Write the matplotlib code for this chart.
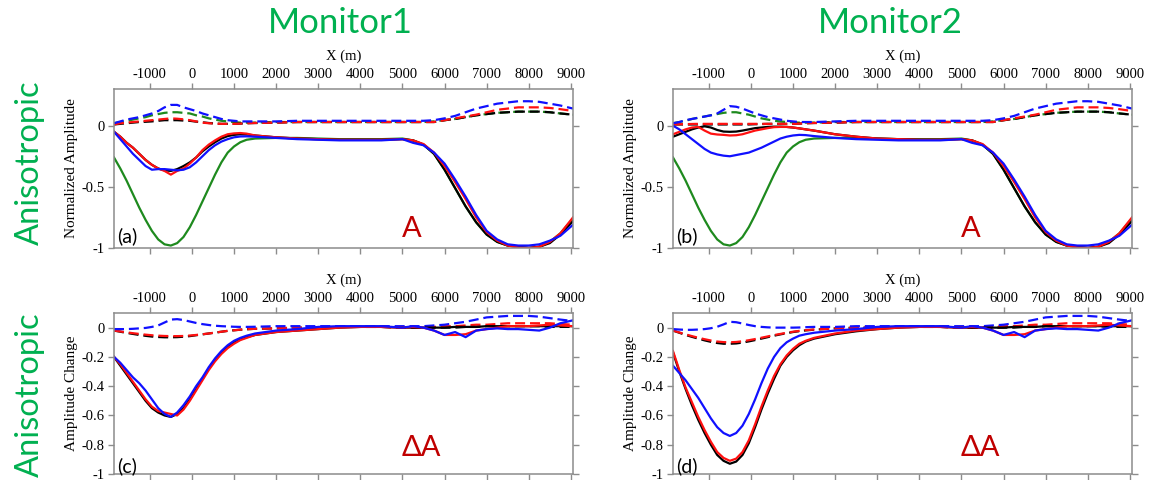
import matplotlib
matplotlib.use("Agg")
import matplotlib.pyplot as plt

# ---------------- data ----------------
x_m = [-1850, -1700, -1550, -1400, -1250, -1100, -950, -800, -650, -500, -350, -200, -50,
       100, 250, 400, 550, 700, 850, 1000, 1150, 1300, 1500,
       2000, 2500, 3000, 3500, 4000, 4500, 5000,
       5250, 5500, 5750, 6000, 6250, 6500, 6750, 7000, 7250, 7500, 7750, 8000, 8250, 8500, 8750, 9050]

x_ticks = [-1000, 0, 1000, 2000, 3000, 4000, 5000, 6000, 7000, 8000, 9000]
amp_yticks = [0, -0.5, -1]
amp_ytick_labels = ["0", "-0.5", "-1"]
chg_yticks = [0, -0.2, -0.4, -0.6, -0.8, -1]
chg_ytick_labels = ["0", "-0.2", "-0.4", "-0.6", "-0.8", "-1"]

col_titles = ["Monitor1", "Monitor2"]
row_titles = ["Anisotropic", "Anisotropic"]
panel_tags = ["(a)", "(b)", "(c)", "(d)"]
panel_marks = ["A", "A", "\u0394A", "\u0394A"]

# Panel (a): Monitor1 normalized amplitude
green_a = [-0.26, -0.35, -0.45, -0.56, -0.67, -0.77, -0.86, -0.93, -0.97, -0.98, -0.96, -0.91, -0.83,
           -0.73, -0.62, -0.51, -0.40, -0.30, -0.22, -0.17, -0.135, -0.115, -0.105,
           -0.10, -0.10, -0.105, -0.11, -0.11, -0.11, -0.105,
           -0.12, -0.155, -0.23, -0.36, -0.51, -0.66, -0.79, -0.89, -0.95, -0.98, -0.99, -1.0, -0.99, -0.95, -0.88, -0.76]
black_a = [-0.05, -0.09, -0.14, -0.18, -0.23, -0.28, -0.32, -0.35, -0.365, -0.37, -0.355, -0.33, -0.30,
           -0.26, -0.21, -0.17, -0.135, -0.105, -0.085, -0.075, -0.07, -0.072, -0.08,
           -0.095, -0.105, -0.11, -0.115, -0.115, -0.115, -0.11,
           -0.12, -0.155, -0.23, -0.36, -0.51, -0.66, -0.79, -0.89, -0.95, -0.98, -0.99, -1.0, -0.99, -0.96, -0.89, -0.78]
red_a = [-0.05, -0.09, -0.14, -0.18, -0.23, -0.28, -0.32, -0.35, -0.37, -0.40, -0.37, -0.35, -0.31,
         -0.26, -0.20, -0.155, -0.12, -0.09, -0.07, -0.063, -0.06, -0.065, -0.08,
         -0.095, -0.105, -0.11, -0.115, -0.115, -0.115, -0.11,
         -0.12, -0.15, -0.22, -0.33, -0.46, -0.60, -0.75, -0.87, -0.94, -0.98, -0.995, -1.0, -0.99, -0.95, -0.88, -0.75]
blue_a = [-0.05, -0.11, -0.17, -0.23, -0.28, -0.33, -0.36, -0.355, -0.355, -0.36, -0.365, -0.36, -0.34,
          -0.30, -0.25, -0.20, -0.16, -0.13, -0.11, -0.095, -0.088, -0.087, -0.09,
          -0.10, -0.11, -0.115, -0.12, -0.12, -0.12, -0.11,
          -0.14, -0.16, -0.22, -0.31, -0.44, -0.58, -0.73, -0.86, -0.93, -0.97, -0.98, -0.98, -0.97, -0.94, -0.90, -0.81]
blue_dash_a = [0.02, 0.035, 0.05, 0.06, 0.07, 0.085, 0.10, 0.12, 0.15, 0.17, 0.17, 0.15, 0.135,
               0.12, 0.10, 0.085, 0.07, 0.055, 0.045, 0.04, 0.035, 0.035, 0.035,
               0.035, 0.04, 0.04, 0.04, 0.04, 0.04, 0.04,
               0.04, 0.04, 0.045, 0.06, 0.08, 0.11, 0.14, 0.16, 0.18, 0.19, 0.20, 0.20, 0.195, 0.18, 0.165, 0.14]
green_dash_a = [0.02, 0.03, 0.04, 0.05, 0.06, 0.07, 0.085, 0.095, 0.105, 0.11, 0.11, 0.105, 0.10,
                0.085, 0.075, 0.06, 0.05, 0.04, 0.035, 0.03, 0.025, 0.025, 0.025,
                0.03, 0.03, 0.03, 0.03, 0.03, 0.03, 0.03,
                0.03, 0.03, 0.035, 0.045, 0.055, 0.07, 0.085, 0.095, 0.105, 0.11, 0.115, 0.115, 0.115, 0.11, 0.10, 0.09]
red_dash_a = [0.01, 0.02, 0.025, 0.03, 0.035, 0.04, 0.045, 0.05, 0.055, 0.06, 0.057, 0.052, 0.045,
              0.035, 0.025, 0.02, 0.017, 0.015, 0.015, 0.015, 0.017, 0.02, 0.022,
              0.025, 0.03, 0.03, 0.03, 0.03, 0.03, 0.03,
              0.03, 0.03, 0.03, 0.045, 0.06, 0.075, 0.09, 0.11, 0.13, 0.14, 0.15, 0.15, 0.15, 0.145, 0.135, 0.12]
black_dash_a = [0.01, 0.015, 0.02, 0.025, 0.03, 0.032, 0.035, 0.04, 0.045, 0.045, 0.045, 0.042, 0.04,
                0.033, 0.028, 0.022, 0.018, 0.015, 0.015, 0.015, 0.017, 0.02, 0.022,
                0.025, 0.03, 0.03, 0.03, 0.03, 0.03, 0.03,
                0.03, 0.03, 0.03, 0.045, 0.055, 0.07, 0.085, 0.095, 0.105, 0.11, 0.115, 0.115, 0.115, 0.11, 0.10, 0.09]

# Panel (b): Monitor2 normalized amplitude
green_b = [-0.26, -0.35, -0.45, -0.56, -0.67, -0.77, -0.86, -0.93, -0.97, -0.98, -0.96, -0.91, -0.83,
           -0.73, -0.62, -0.51, -0.40, -0.30, -0.22, -0.17, -0.135, -0.115, -0.105,
           -0.10, -0.10, -0.105, -0.11, -0.11, -0.11, -0.105,
           -0.12, -0.155, -0.23, -0.36, -0.51, -0.66, -0.79, -0.89, -0.95, -0.98, -0.99, -1.0, -0.99, -0.95, -0.88, -0.76]
black_b = [-0.09, -0.07, -0.05, -0.03, -0.015, -0.005, -0.015, -0.035, -0.048, -0.05, -0.048, -0.04, -0.03,
           -0.02, -0.015, -0.01, -0.008, -0.008, -0.01, -0.015, -0.022, -0.03, -0.04,
           -0.07, -0.09, -0.105, -0.11, -0.115, -0.115, -0.11,
           -0.12, -0.155, -0.23, -0.36, -0.51, -0.66, -0.79, -0.89, -0.95, -0.98, -0.99, -1.0, -0.99, -0.96, -0.89, -0.78]
red_b = [-0.07, -0.05, -0.03, -0.015, -0.01, -0.04, -0.065, -0.072, -0.075, -0.08, -0.078, -0.07, -0.055,
         -0.04, -0.03, -0.02, -0.012, -0.01, -0.01, -0.015, -0.022, -0.03, -0.04,
         -0.07, -0.09, -0.105, -0.11, -0.115, -0.115, -0.11,
         -0.12, -0.15, -0.22, -0.33, -0.46, -0.60, -0.75, -0.87, -0.94, -0.98, -0.995, -1.0, -0.99, -0.95, -0.88, -0.75]
blue_b = [0.0, -0.03, -0.07, -0.11, -0.15, -0.19, -0.22, -0.235, -0.245, -0.25, -0.24, -0.23, -0.22,
          -0.20, -0.18, -0.155, -0.13, -0.105, -0.09, -0.08, -0.075, -0.077, -0.085,
          -0.10, -0.11, -0.115, -0.12, -0.12, -0.12, -0.11,
          -0.14, -0.16, -0.22, -0.31, -0.44, -0.58, -0.73, -0.86, -0.93, -0.97, -0.98, -0.98, -0.97, -0.94, -0.90, -0.81]
blue_dash_b = [0.02, 0.03, 0.045, 0.055, 0.065, 0.075, 0.085, 0.10, 0.13, 0.16, 0.155, 0.14, 0.12,
               0.10, 0.085, 0.07, 0.06, 0.05, 0.04, 0.035, 0.03, 0.03, 0.03,
               0.035, 0.04, 0.04, 0.04, 0.04, 0.04, 0.04,
               0.04, 0.04, 0.045, 0.06, 0.08, 0.11, 0.14, 0.16, 0.18, 0.19, 0.20, 0.20, 0.195, 0.18, 0.165, 0.14]
green_dash_b = [0.02, 0.03, 0.04, 0.055, 0.065, 0.075, 0.085, 0.095, 0.105, 0.11, 0.11, 0.10, 0.09,
                0.075, 0.06, 0.05, 0.04, 0.035, 0.03, 0.028, 0.025, 0.025, 0.025,
                0.03, 0.03, 0.03, 0.03, 0.03, 0.03, 0.03,
                0.03, 0.03, 0.035, 0.045, 0.055, 0.07, 0.085, 0.095, 0.105, 0.11, 0.115, 0.115, 0.115, 0.11, 0.10, 0.09]
red_dash_b = [0.01, 0.012, 0.013, 0.014, 0.015, 0.015, 0.015, 0.015, 0.015, 0.015, 0.015, 0.015, 0.015,
              0.015, 0.015, 0.015, 0.015, 0.015, 0.015, 0.015, 0.017, 0.02, 0.022,
              0.025, 0.03, 0.03, 0.03, 0.03, 0.03, 0.03,
              0.03, 0.03, 0.03, 0.045, 0.06, 0.075, 0.09, 0.11, 0.13, 0.14, 0.15, 0.15, 0.15, 0.145, 0.135, 0.12]
black_dash_b = [0.01, 0.01, 0.01, 0.01, 0.01, 0.01, 0.01, 0.01, 0.01, 0.01, 0.01, 0.01, 0.01,
                0.012, 0.013, 0.015, 0.015, 0.015, 0.015, 0.015, 0.017, 0.02, 0.022,
                0.025, 0.03, 0.03, 0.03, 0.03, 0.03, 0.03,
                0.03, 0.03, 0.03, 0.045, 0.055, 0.07, 0.085, 0.095, 0.105, 0.11, 0.115, 0.115, 0.115, 0.11, 0.10, 0.09]

# Panel (c): Monitor1 amplitude change
black_c = [-0.20, -0.26, -0.32, -0.38, -0.44, -0.50, -0.55, -0.58, -0.60, -0.61, -0.59, -0.55, -0.49,
           -0.42, -0.35, -0.28, -0.22, -0.17, -0.13, -0.10, -0.08, -0.065, -0.05,
           -0.03, -0.02, -0.01, 0.0, 0.005, 0.005, 0.0,
           0.0, 0.0, 0.0, 0.0, 0.005, 0.005, 0.005, 0.01, 0.01, 0.01, 0.01, 0.01, 0.01, 0.01, 0.01, 0.01]
red_c = [-0.20, -0.25, -0.31, -0.37, -0.43, -0.49, -0.54, -0.57, -0.58, -0.59, -0.60, -0.56, -0.50,
         -0.43, -0.36, -0.29, -0.23, -0.18, -0.14, -0.11, -0.085, -0.07, -0.05,
         -0.03, -0.02, -0.01, 0.0, 0.005, 0.005, 0.0,
         0.005, 0.0, -0.02, -0.05, -0.05, -0.045, -0.02, -0.01, 0.0, 0.01, 0.01, 0.01, 0.015, 0.02, 0.015, 0.01]
blue_c = [-0.20, -0.24, -0.29, -0.34, -0.38, -0.43, -0.49, -0.55, -0.59, -0.61, -0.58, -0.53, -0.47,
          -0.40, -0.34, -0.27, -0.21, -0.16, -0.12, -0.09, -0.07, -0.055, -0.04,
          -0.02, -0.01, 0.005, 0.01, 0.01, 0.01, 0.0,
          0.01, 0.0, -0.02, -0.05, -0.03, -0.065, -0.02, -0.01, -0.005, -0.01, -0.01, -0.015, -0.02, 0.0, 0.03, 0.05]
black_dash_c = [-0.02, -0.028, -0.036, -0.043, -0.05, -0.056, -0.061, -0.064, -0.066, -0.066, -0.065, -0.062, -0.058,
                -0.052, -0.046, -0.04, -0.034, -0.028, -0.022, -0.018, -0.014, -0.011, -0.008,
                -0.005, 0.0, 0.0, 0.005, 0.005, 0.005, 0.0,
                0.0, 0.0, 0.0, 0.0, 0.0, 0.005, 0.005, 0.01, 0.01, 0.01, 0.01, 0.01, 0.01, 0.005, 0.005, 0.005]
red_dash_c = [-0.02, -0.026, -0.032, -0.038, -0.043, -0.048, -0.052, -0.055, -0.057, -0.058, -0.058, -0.057, -0.054,
              -0.05, -0.045, -0.04, -0.034, -0.028, -0.022, -0.018, -0.014, -0.011, -0.008,
              -0.005, 0.0, 0.0, 0.005, 0.005, 0.005, 0.0,
              0.0, 0.0, 0.005, 0.01, 0.01, 0.015, 0.02, 0.02, 0.025, 0.03, 0.03, 0.03, 0.03, 0.03, 0.025, 0.02]
blue_dash_c = [-0.01, -0.01, -0.01, -0.008, -0.005, -0.002, 0.005, 0.015, 0.035, 0.055, 0.058, 0.052, 0.042,
               0.032, 0.024, 0.018, 0.013, 0.01, 0.008, 0.006, 0.005, 0.005, 0.006,
               0.01, 0.01, 0.01, 0.01, 0.01, 0.01, 0.01,
               0.01, 0.01, 0.015, 0.02, 0.03, 0.04, 0.055, 0.07, 0.075, 0.08, 0.08, 0.08, 0.075, 0.065, 0.055, 0.045]

# Panel (d): Monitor2 amplitude change
black_d = [-0.17, -0.30, -0.42, -0.53, -0.63, -0.72, -0.80, -0.87, -0.91, -0.93, -0.915, -0.87, -0.79,
           -0.68, -0.56, -0.45, -0.35, -0.26, -0.20, -0.155, -0.12, -0.095, -0.075,
           -0.045, -0.025, -0.01, 0.0, 0.005, 0.005, 0.0,
           0.0, 0.0, 0.0, 0.0, 0.005, 0.005, 0.005, 0.01, 0.01, 0.01, 0.01, 0.01, 0.01, 0.01, 0.01, 0.01]
red_d = [-0.16, -0.29, -0.41, -0.51, -0.61, -0.70, -0.78, -0.85, -0.89, -0.91, -0.895, -0.85, -0.77,
         -0.66, -0.54, -0.43, -0.33, -0.25, -0.19, -0.145, -0.11, -0.09, -0.07,
         -0.04, -0.02, -0.01, 0.0, 0.005, 0.005, 0.0,
         0.005, 0.0, -0.02, -0.05, -0.05, -0.045, -0.02, -0.01, 0.0, 0.01, 0.01, 0.01, 0.015, 0.02, 0.015, 0.01]
blue_d = [-0.26, -0.31, -0.36, -0.42, -0.48, -0.55, -0.62, -0.68, -0.72, -0.74, -0.72, -0.67, -0.59,
          -0.49, -0.38, -0.28, -0.20, -0.14, -0.10, -0.075, -0.055, -0.045, -0.035,
          -0.02, -0.01, 0.005, 0.01, 0.01, 0.01, 0.0,
          0.01, 0.0, -0.02, -0.05, -0.03, -0.065, -0.02, -0.01, -0.005, -0.01, -0.01, -0.015, -0.02, 0.0, 0.03, 0.05]
black_dash_d = [-0.02, -0.035, -0.05, -0.063, -0.075, -0.087, -0.097, -0.105, -0.11, -0.11, -0.108, -0.102, -0.094,
                -0.085, -0.075, -0.065, -0.055, -0.046, -0.038, -0.03, -0.024, -0.019, -0.014,
                -0.005, 0.0, 0.0, 0.005, 0.005, 0.005, 0.0,
                0.0, 0.0, 0.0, 0.0, 0.0, 0.005, 0.005, 0.01, 0.01, 0.01, 0.01, 0.01, 0.01, 0.005, 0.005, 0.005]
red_dash_d = [-0.02, -0.033, -0.046, -0.058, -0.069, -0.079, -0.088, -0.095, -0.099, -0.10, -0.098, -0.093, -0.086,
              -0.078, -0.069, -0.06, -0.051, -0.043, -0.035, -0.028, -0.022, -0.017, -0.013,
              -0.005, 0.0, 0.0, 0.005, 0.005, 0.005, 0.0,
              0.0, 0.0, 0.005, 0.01, 0.01, 0.015, 0.02, 0.02, 0.025, 0.03, 0.03, 0.03, 0.03, 0.03, 0.025, 0.02]
blue_dash_d = [-0.01, -0.013, -0.015, -0.015, -0.013, -0.01, -0.004, 0.006, 0.022, 0.04, 0.037, 0.028, 0.018,
               0.01, 0.005, 0.002, 0.0, 0.0, 0.0, 0.0, 0.001, 0.003, 0.005,
               0.005, 0.01, 0.01, 0.01, 0.01, 0.01, 0.01,
               0.01, 0.01, 0.015, 0.02, 0.03, 0.04, 0.055, 0.07, 0.075, 0.08, 0.08, 0.08, 0.075, 0.065, 0.055, 0.045]

# ---------------- style ----------------
C_BLACK = "#000000"
C_GREEN = "#1e8a1e"
C_RED = "#ff1010"
C_BLUE = "#1010ff"
C_TITLE = "#00b050"
C_MARK = "#c00000"
C_SPINE = "#8c8c8c"
LW = 1.6
DASH = (4.5, 2.2)

SERIF = "Liberation Serif"
SANS = "Lato"

W, H = 1151, 480
fig = plt.figure(figsize=(W / 100, H / 100), dpi=100)


def px_axes(left, top, right, bottom):
    return fig.add_axes([left / W, 1 - bottom / H, (right - left) / W, (bottom - top) / H])


ax_a = px_axes(114, 89, 573, 248)
ax_b = px_axes(673, 89, 1132, 248)
ax_c = px_axes(114, 313, 573, 474)
ax_d = px_axes(673, 313, 1132, 474)

panels = [
    (ax_a, [(green_dash_a, C_GREEN, True), (black_dash_a, C_BLACK, True), (red_dash_a, C_RED, True),
            (blue_dash_a, C_BLUE, True), (green_a, C_GREEN, False), (black_a, C_BLACK, False),
            (red_a, C_RED, False), (blue_a, C_BLUE, False)], "amp"),
    (ax_b, [(green_dash_b, C_GREEN, True), (black_dash_b, C_BLACK, True), (red_dash_b, C_RED, True),
            (blue_dash_b, C_BLUE, True), (green_b, C_GREEN, False), (black_b, C_BLACK, False),
            (red_b, C_RED, False), (blue_b, C_BLUE, False)], "amp"),
    (ax_c, [(black_dash_c, C_BLACK, True), (red_dash_c, C_RED, True), (blue_dash_c, C_BLUE, True),
            (black_c, C_BLACK, False), (red_c, C_RED, False), (blue_c, C_BLUE, False)], "chg"),
    (ax_d, [(black_dash_d, C_BLACK, True), (red_dash_d, C_RED, True), (blue_dash_d, C_BLUE, True),
            (black_d, C_BLACK, False), (red_d, C_RED, False), (blue_d, C_BLUE, False)], "chg"),
]

for i, (ax, series, kind) in enumerate(panels):
    for ys, col, dashed in series:
        if dashed:
            ax.plot(x_m, ys, color=col, lw=LW, dashes=DASH)
        else:
            ax.plot(x_m, ys, color=col, lw=LW)
    ax.set_xlim(-1850, 9050)
    ax.set_xticks(x_ticks)
    ax.set_xticklabels([str(t) for t in x_ticks], fontfamily=SERIF, fontsize=10.5)
    if kind == "amp":
        ax.set_ylim(-1, 0.3)
        ax.set_yticks(amp_yticks)
        ax.set_yticklabels(amp_ytick_labels, fontfamily=SERIF, fontsize=10.5)
        ax.set_ylabel("Normalized Amplitude", fontfamily=SERIF, fontsize=11)
    else:
        ax.set_ylim(-1, 0.1)
        ax.set_yticks(chg_yticks)
        ax.set_yticklabels(chg_ytick_labels, fontfamily=SERIF, fontsize=10.5)
        ax.set_ylabel("Amplitude Change", fontfamily=SERIF, fontsize=11)
    ax.yaxis.label.set_va("center")
    ax.yaxis.set_label_coords(-43 / 459, 0.5)
    ax.xaxis.set_label_position("top")
    ax.set_xlabel("X (m)", fontfamily=SERIF, fontsize=10.5, labelpad=6)
    ax.tick_params(axis="x", top=True, bottom=True, labeltop=True, labelbottom=False,
                   direction="out", length=4, width=1.0, color=C_SPINE, pad=2)
    ax.tick_params(axis="y", left=True, right=True, labelleft=True, labelright=False,
                   direction="out", length=4, width=1.0, color=C_SPINE, pad=3)
    for sp in ax.spines.values():
        sp.set_color(C_SPINE)
        sp.set_linewidth(1.1)
    ax.text(0.007, 0.075 if kind == "amp" else 0.05, panel_tags[i], transform=ax.transAxes,
            ha="left", va="center", fontfamily=SANS, fontsize=14, color="black")
    mx = (412 - 114) / 459 if kind == "amp" else (421 - 114) / 459
    my = (248 - 229) / 159 if kind == "amp" else (474 - 448) / 161
    ax.text(mx, my, panel_marks[i], transform=ax.transAxes, ha="center", va="center",
            fontfamily=SANS, fontsize=21, color=C_MARK)

# column titles
fig.text(340 / W, 1 - 23 / H, col_titles[0], ha="center", va="center",
         fontfamily=SANS, fontsize=25, color=C_TITLE)
fig.text(890 / W, 1 - 23 / H, col_titles[1], ha="center", va="center",
         fontfamily=SANS, fontsize=25, color=C_TITLE)
# row titles
fig.text(30 / W, 1 - 163 / H, row_titles[0], ha="center", va="center", rotation=90,
         fontfamily=SANS, fontsize=23.5, color=C_TITLE)
fig.text(30 / W, 1 - 395 / H, row_titles[1], ha="center", va="center", rotation=90,
         fontfamily=SANS, fontsize=23.5, color=C_TITLE)

fig.savefig("out.png", dpi=100)
